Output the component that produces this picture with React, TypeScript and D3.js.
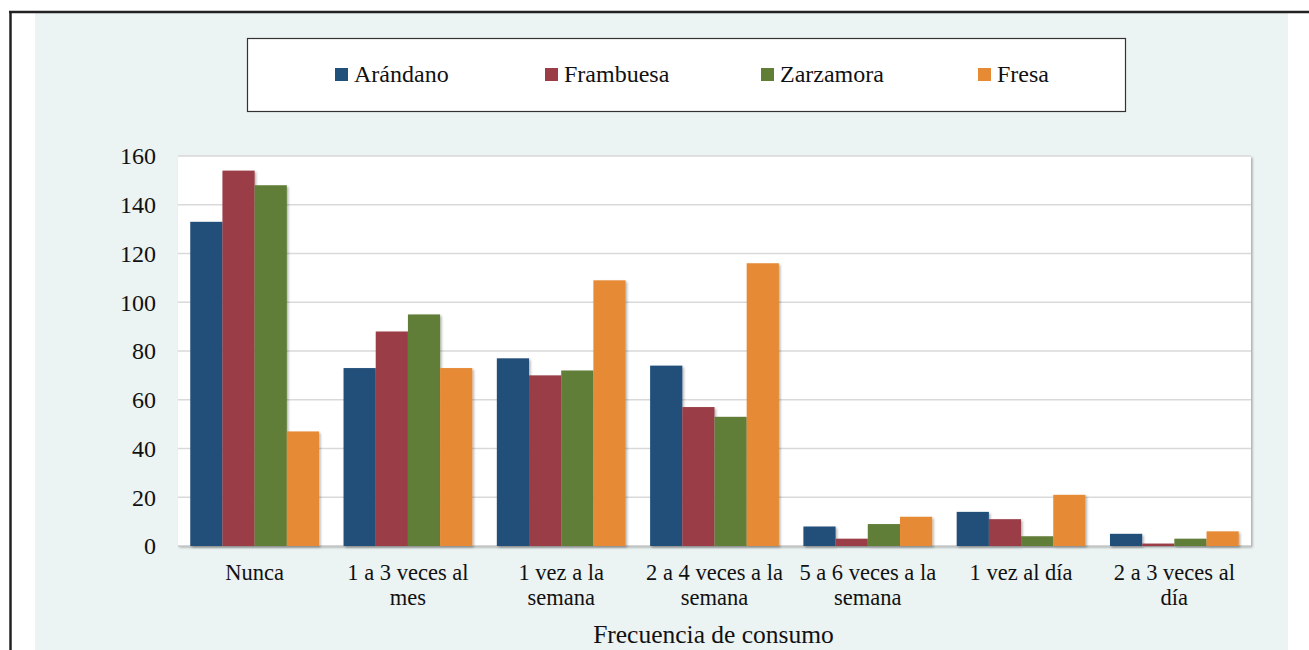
import React from "react";
import * as d3 from "d3";

const categories: string[][] = [
  ["Nunca"],
  ["1 a 3 veces al", "mes"],
  ["1 vez a la", "semana"],
  ["2 a 4 veces a la", "semana"],
  ["5 a 6 veces a la", "semana"],
  ["1 vez al día"],
  ["2 a 3 veces al", "día"],
];
const seriesNames = ["Arándano", "Frambuesa", "Zarzamora", "Fresa"];
const arandano = [133, 73, 77, 74, 8, 14, 5];
const frambuesa = [154, 88, 70, 57, 3, 11, 1];
const zarzamora = [148, 95, 72, 53, 9, 4, 3];
const fresa = [47, 73, 109, 116, 12, 21, 6];
const yTicks = [0, 20, 40, 60, 80, 100, 120, 140, 160];
const colors = ["#21507A", "#9A3D46", "#617E37", "#E68A34"];

const seriesValues = [arandano, frambuesa, zarzamora, fresa];

export default function App() {
  const W = 1309;
  const H = 650;
  const plotL = 178;
  const plotR = 1251;
  const plotT = 156;
  const plotB = 546;
  const font = "'Liberation Serif', 'Times New Roman', serif";

  const x0 = d3
    .scaleBand<number>()
    .domain(categories.map((_, i) => i))
    .range([plotL, plotR])
    .paddingInner(0.16)
    .paddingOuter(0.08);
  const x1 = d3
    .scaleBand<number>()
    .domain(seriesNames.map((_, i) => i))
    .range([0, x0.bandwidth()]);
  const y = d3.scaleLinear().domain([0, 160]).range([plotB, plotT]);

  const legendX = [335, 545, 761, 978];

  return (
    <svg
      width={W}
      height={H}
      style={{ position: "absolute", left: 0, top: 0, background: "#fff" }}
      fontFamily={font}
    >
      <defs>
        <filter id="sh" x="-20%" y="-20%" width="140%" height="140%">
          <feDropShadow dx="1.5" dy="1.5" stdDeviation="1.2" floodColor="#000" floodOpacity="0.3" />
        </filter>
      </defs>
      {/* outer frame */}
      <rect x={35} y={13} width={1253} height={H - 13} fill="#EBF3F3" />
      <line x1={9} y1={12} x2={W} y2={12} stroke="#222" strokeWidth={2.5} />
      <line x1={10.5} y1={11} x2={10.5} y2={H} stroke="#222" strokeWidth={2.5} />

      {/* legend */}
      <rect x={247.5} y={38.5} width={878} height={73} fill="#fff" stroke="#333" strokeWidth={1.2} />
      {seriesNames.map((n, i) => (
        <g key={n}>
          <rect x={legendX[i]} y={68} width={13} height={13} fill={colors[i]} />
          <text x={legendX[i] + 19} y={82} fontSize={24} fill="#111">
            {n}
          </text>
        </g>
      ))}

      {/* plot area */}
      <rect x={plotL} y={plotT} width={plotR - plotL} height={plotB - plotT} fill="#fff" filter="url(#sh)" />
      {yTicks.map((t) => (
        <g key={t}>
          {t > 0 && (
            <line x1={plotL} x2={plotR} y1={y(t)} y2={y(t)} stroke="#D9D9D9" strokeWidth={1.5} />
          )}
          <text x={156} y={y(t)} dy="0.35em" textAnchor="end" fontSize={24} fill="#111">
            {t}
          </text>
        </g>
      ))}
      <line x1={plotL} x2={plotR} y1={plotB} y2={plotB} stroke="#C8C8C8" strokeWidth={1.5} />

      {/* bars */}
      {categories.map((_, ci) => (
        <g key={ci} transform={`translate(${x0(ci)},0)`}>
          {seriesValues.map((vals, si) => (
            <rect
              key={si}
              x={x1(si)}
              y={y(vals[ci])}
              width={x1.bandwidth()}
              height={y(0) - y(vals[ci])}
              fill={colors[si]}
              filter="url(#sh)"
            />
          ))}
        </g>
      ))}

      {/* x labels */}
      {categories.map((lines, ci) => (
        <text
          key={ci}
          x={(x0(ci) as number) + x0.bandwidth() / 2}
          y={580}
          textAnchor="middle"
          fontSize={22.5}
          fill="#111"
        >
          {lines.map((l, li) => (
            <tspan key={li} x={(x0(ci) as number) + x0.bandwidth() / 2} dy={li === 0 ? 0 : 25}>
              {l}
            </tspan>
          ))}
        </text>
      ))}

      <text x={(plotL + plotR) / 2 - 1} y={643} textAnchor="middle" fontSize={25.5} fill="#111">
        Frecuencia de consumo
      </text>
    </svg>
  );
}
